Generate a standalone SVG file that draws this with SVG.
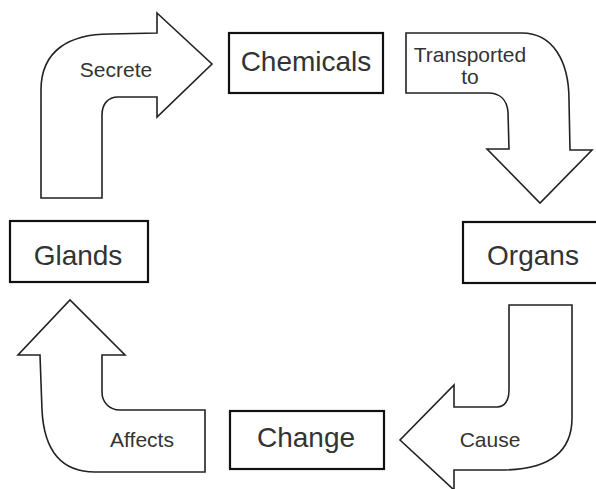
<svg xmlns="http://www.w3.org/2000/svg" width="596" height="489" viewBox="0 0 596 489">
<style>
.box{fill:#fff;stroke:#111;stroke-width:2.2}
.arr{fill:#fff;stroke:#222;stroke-width:1.6;stroke-linejoin:miter}
.bt{font-family:"Liberation Sans",Arial,sans-serif;font-size:28px;fill:#333;text-anchor:middle}
.at{font-family:"Liberation Sans",Arial,sans-serif;font-size:21px;fill:#333;text-anchor:middle}
</style>
<rect width="596" height="489" fill="#fff"/>
<g id="connectors">
<g id="secrete">
<path class="arr" d="M41,198 L41,90 C41,50 70,34 110,34 L157,33 L157,13 L212,64 L157,117 L157,97 L118,97 C108,97 102,104 102,115 L102,198 Z"/>
<text class="at" x="116" y="77">Secrete</text>
</g>
<g id="transported">
<path class="arr" d="M406,33 L522,33 C552,33 569,60 569,100 L570,150 L592,150 L540,203 L487,149 L509,149 L508,112 C507,100 500,93 488,93 L406,93 Z"/>
<text class="at" x="470" y="62" font-size="20">Transported</text>
<text class="at" x="470" y="84" font-size="20">to</text>
</g>
<g id="cause">
<path class="arr" d="M509,305 L572,305 L572,418 C572,452 550,469 505,470 L454,470 L454,490 L400,440 L454,385 L454,407 L497,407 C505,407 509,400 509,390 Z"/>
<text class="at" x="490" y="447">Cause</text>
</g>
<g id="affects">
<path class="arr" d="M205,472 L205,410 L120,410 C109,410 102,402 102,392 L102,355 L125,355 L70,300 L18,355 L40,355 L42,410 C44,450 60,472 95,472 Z"/>
<text class="at" x="142" y="447">Affects</text>
</g>
</g>
<g id="chemicals">
<rect class="box" x="229" y="33" width="154" height="60"/>
<text class="bt" x="306" y="71">Chemicals</text>
</g>
<g id="organs">
<rect class="box" x="463" y="222" width="142" height="61"/>
<text class="bt" x="533" y="265">Organs</text>
</g>
<g id="change">
<rect class="box" x="230" y="411" width="154" height="58"/>
<text class="bt" x="306" y="447">Change</text>
</g>
<g id="glands">
<rect class="box" x="10" y="221" width="138" height="61"/>
<text class="bt" x="78" y="265">Glands</text>
</g>
</svg>
